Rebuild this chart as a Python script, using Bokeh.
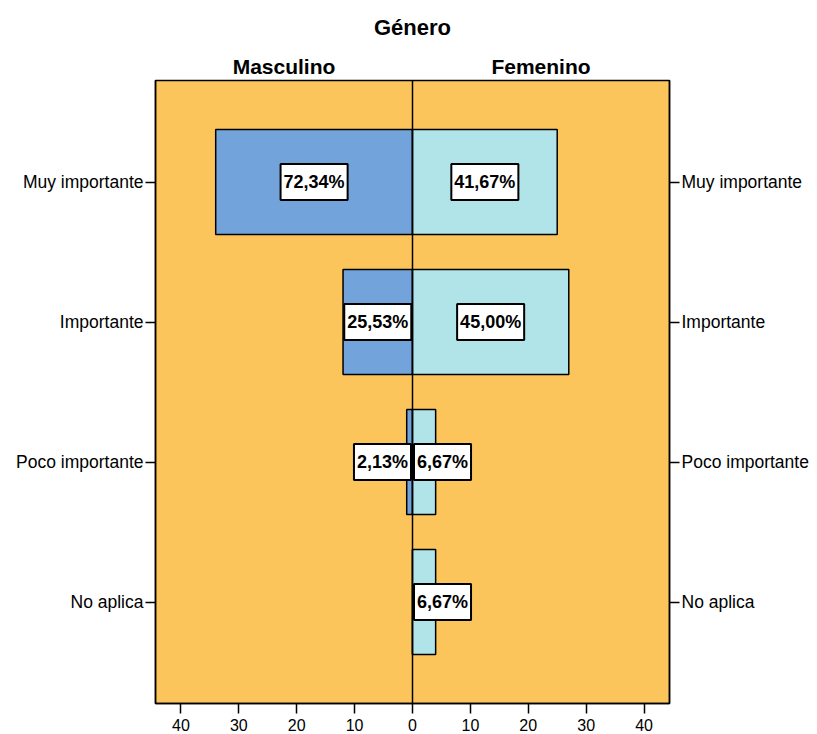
from bokeh.plotting import figure
from bokeh.layouts import column
from bokeh.models import Range1d, FixedTicker, LinearAxis, Span, ColumnDataSource
from bokeh.embed import file_html
from bokeh.resources import INLINE
from bokeh.core.properties import value

# ---- data ----
chart_title = "Género"
groups = ["Masculino", "Femenino"]
categories = ["Muy importante", "Importante", "Poco importante", "No aplica"]
masc_counts = [34, 12, 1, 0]
fem_counts = [25, 27, 4, 4]
masc_pct = [72.34, 25.53, 2.13, 0.0]
fem_pct = [41.67, 45.00, 6.67, 6.67]
x_ticks = [-40, -30, -20, -10, 0, 10, 20, 30, 40]

# ---- style ----
FONT = "Liberation Sans"
BG = "#FCC55C"
MASC_COLOR = "#72A3DA"
FEM_COLOR = "#B0E4E8"
W = 817
H_HEAD = 79
H_MAIN = 654
BL, BR = 155, 148
BT, BB = 1, 30
X_HALF = 44.4
Y_PAD = 0.725
BAR_H = 0.75

n = len(categories)
ypos = list(range(n))
y_top, y_bot = -Y_PAD, n - 1 + Y_PAD
x_range = Range1d(-X_HALF, X_HALF)

# ---- header figure (titles) ----
head = figure(width=W, height=H_HEAD, output_backend="svg", toolbar_location=None,
              x_range=x_range, y_range=Range1d(H_HEAD, 0),
              min_border_left=BL, min_border_right=BR, min_border_top=0, min_border_bottom=0,
              background_fill_color="white", border_fill_color="white", outline_line_color=None)
head.axis.visible = False
head.grid.visible = False
head.text(x=[0], y=[27], text=[chart_title], text_align="center", text_baseline="middle",
          text_font=value(FONT), text_font_size="22px", text_font_style="bold", text_color="black")
head.text(x=[-X_HALF / 2, X_HALF / 2], y=[66, 66], text=groups, text_align="center",
          text_baseline="middle", text_font=value(FONT), text_font_size="21px",
          text_font_style="bold", text_color="black")

# ---- main figure ----
p = figure(width=W, height=H_MAIN, output_backend="svg", toolbar_location=None,
           x_range=x_range, y_range=Range1d(y_bot, y_top),
           min_border_left=BL, min_border_right=BR, min_border_top=BT, min_border_bottom=BB,
           background_fill_color=BG, border_fill_color="white",
           outline_line_color="black", outline_line_width=1.5)
p.grid.visible = False

cat_over = {i: c for i, c in zip(ypos, categories)}

def style_axis(ax, size, standoff=2):
    ax.axis_line_color = "black"
    ax.axis_line_width = 1.5
    ax.major_tick_line_color = "black"
    ax.major_tick_line_width = 1.5
    ax.major_tick_in = 0
    ax.major_tick_out = 10
    ax.minor_tick_line_color = None
    ax.major_label_text_font = FONT
    ax.major_label_text_font_size = size
    ax.major_label_text_color = "black"
    ax.major_label_standoff = standoff

p.yaxis.ticker = FixedTicker(ticks=ypos)
p.yaxis.major_label_overrides = cat_over
style_axis(p.yaxis[0], "17.5px")

right_ax = LinearAxis(ticker=FixedTicker(ticks=ypos), major_label_overrides=cat_over)
style_axis(right_ax, "17.5px")
p.add_layout(right_ax, "right")

p.xaxis.ticker = FixedTicker(ticks=x_ticks)
p.xaxis.major_label_overrides = {t: str(abs(t)) for t in x_ticks}
style_axis(p.xaxis[0], "16px", standoff=5)

# bars
src_m = ColumnDataSource(dict(y=ypos, left=[-c for c in masc_counts], right=[0] * n))
src_f = ColumnDataSource(dict(y=ypos, left=[0] * n, right=fem_counts))
p.hbar(y="y", left="left", right="right", height=BAR_H, source=src_m,
       fill_color=MASC_COLOR, line_color="black", line_width=1.5)
p.hbar(y="y", left="left", right="right", height=BAR_H, source=src_f,
       fill_color=FEM_COLOR, line_color="black", line_width=1.5)

p.add_layout(Span(location=0, dimension="height", line_color="black", line_width=1.5))

# value labels
def fmt(v):
    return f"{v:.2f}%".replace(".", ",")

LABEL_HALF = 5.8  # half label width, in x units
center_lab = dict(x=[], y=[], t=[])
right_lab = dict(x=[], y=[], t=[])
left_lab = dict(x=[], y=[], t=[])
for y, c, pc in zip(ypos, masc_counts, masc_pct):
    if c <= 0:
        continue
    if c / 2 >= LABEL_HALF:
        center_lab["x"].append(-c / 2); center_lab["y"].append(y); center_lab["t"].append(fmt(pc))
    else:
        right_lab["x"].append(0); right_lab["y"].append(y); right_lab["t"].append(fmt(pc))
for y, c, pc in zip(ypos, fem_counts, fem_pct):
    if c <= 0:
        continue
    if c / 2 >= LABEL_HALF:
        center_lab["x"].append(c / 2); center_lab["y"].append(y); center_lab["t"].append(fmt(pc))
    else:
        left_lab["x"].append(0); left_lab["y"].append(y); left_lab["t"].append(fmt(pc))

PAD = dict(left=3, right=3, top=8, bottom=8)
common = dict(text_font=value(FONT), text_font_size="18px", text_font_style="bold",
              text_color="black", text_baseline="middle",
              background_fill_color="white", border_line_color="black",
              border_line_width=2, padding=PAD)
p.text(x="x", y="y", text="t", source=ColumnDataSource(center_lab), text_align="center", **common)
p.text(x="x", y="y", text="t", source=ColumnDataSource(right_lab), text_align="right",
       x_offset=-1.5, **common)
p.text(x="x", y="y", text="t", source=ColumnDataSource(left_lab), text_align="left",
       x_offset=1.5, **common)

layout = column(head, p, spacing=0)
open("out.html", "w").write(file_html(layout, INLINE))
